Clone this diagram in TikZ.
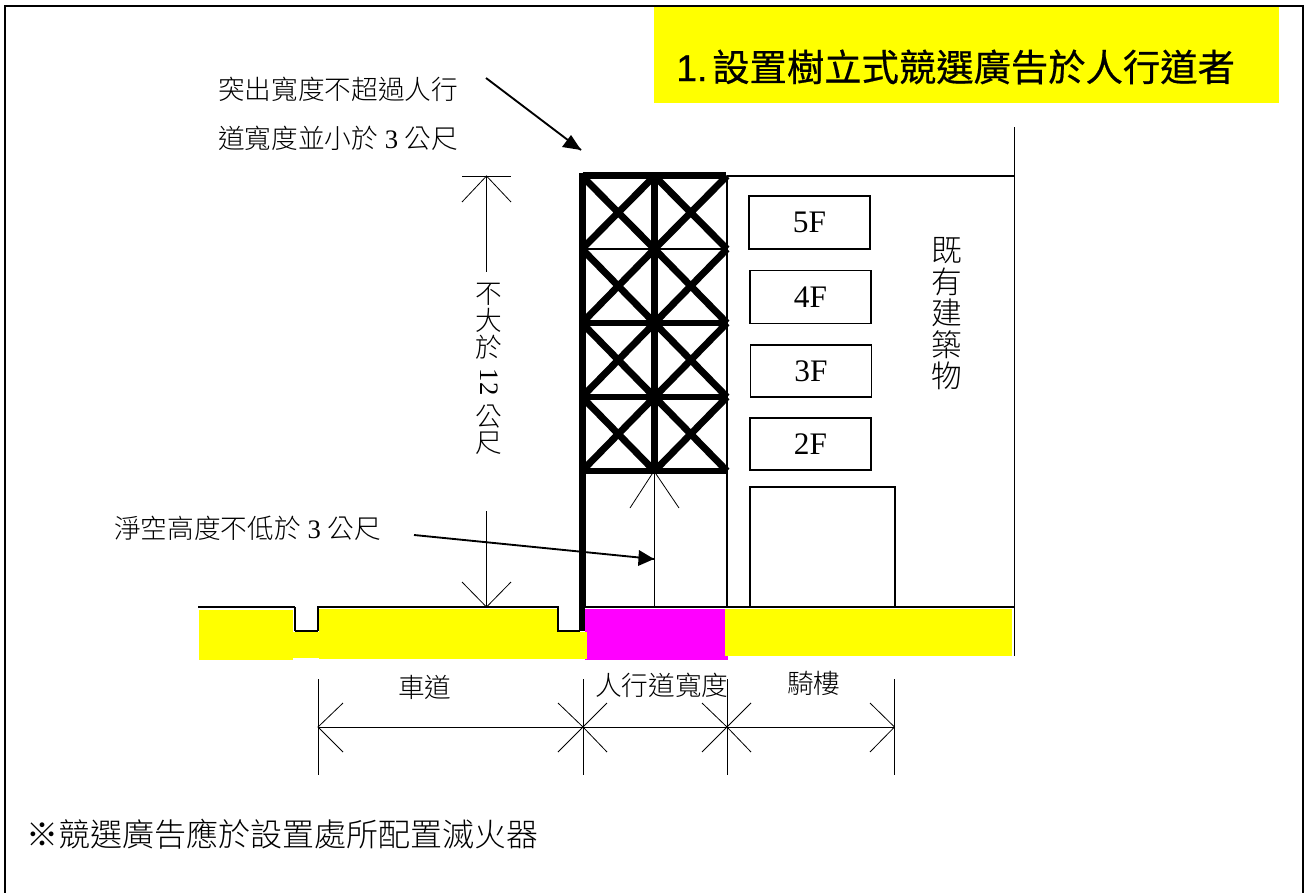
\documentclass[tikz,border=0pt]{standalone}
\usepackage{fontspec}
\setmainfont{Liberation Serif}
\newfontfamily\cjk{Noto Sans CJK TC}[UprightFont=* Light]
\newfontfamily\hei{Noto Sans CJK TC}[FakeBold=0.5]
\newfontfamily\latinbold{Liberation Sans}[FakeBold=0.5]
\newcommand{\fs}[1]{\fontsize{#1}{#1}\selectfont}
\newcommand{\num}[1]{{\rmfamily\ #1\ }}
\definecolor{yel}{RGB}{255,255,0}
\definecolor{mag}{RGB}{255,0,255}
\tikzset{
  x=0.75pt,y=-0.75pt,
  thin line/.style={draw=black,line width=0.75pt},
  thick frame/.style={draw=black,line width=5.2pt},
  mid line/.style={draw=black,line width=1.1pt},
  floorbox/.style={draw=black,line width=1.1pt,fill=white,inner sep=0pt,font=\fs{23.5}},
  label/.style={inner sep=0pt,font=\cjk\fs{20},anchor=west},
  tip/.style={draw=black,line width=0.6pt}
}
\begin{document}
\begin{tikzpicture}
\useasboundingbox (0,0) rectangle (1305,892);
% outer frame
\draw[line width=1.5pt] (5,900) -- (5,6) -- (1303,6) -- (1303,900);
% title
\node[fill=yel,inner sep=0pt,minimum width=625*0.75pt,minimum height=96*0.75pt] (title) at (966.5,55) {};
\node[inner sep=0pt,anchor=west,font=\hei\fs{28}] (titletext) at (676,67) {\makebox[27pt][l]{\latinbold 1.}設置樹立式競選廣告於人行道者};
% coloured bands
\fill[mag] (585,609) rectangle (728,660);
\fill[yel] (199,610) rectangle (293,660);
\fill[yel] (293,632) rectangle (319,658);
\fill[yel] (319,609) rectangle (558,659);
\fill[yel] (558,632) rectangle (587,659);
\fill[yel] (725,609) rectangle (1012,656);
% road line
\coordinate (r0) at (198,607);
\coordinate (r1) at (295,607);
\coordinate (r2) at (295,631);
\coordinate (r3) at (318,631);
\coordinate (r4) at (318,607);
\coordinate (r5) at (558,607);
\coordinate (r6) at (558,631);
\coordinate (r7) at (580,631);
\draw[line width=1.9pt] (r0) -- (r1);
\draw[mid line] (r1) -- (r2);
\draw[line width=2pt] (r2) -- (r3);
\draw[mid line] (r3) -- (r4) -- (r5) -- (r6) -- (r7);
% building
\coordinate (bTR) at (1014.5,127);
\coordinate (bBR) at (1014.5,656);
\coordinate (bT) at (727,176);
\coordinate (bTs) at (1014.5,176);
\coordinate (bL) at (582,607);
\coordinate (bR) at (1014.5,607);
\draw[mid line] (bTR) -- (bBR);
\draw[mid line] (bT) -- (bTs);
\draw[mid line] (bL) -- (bR);
\draw[mid line] (727,176) -- (727,607);
% floors
\node[floorbox,minimum width=121*0.75pt,minimum height=53*0.75pt] (f5) at (809.5,222.5) {5F};
\node[floorbox,minimum width=121*0.75pt,minimum height=53*0.75pt] (f4) at (810.5,297) {4F};
\node[floorbox,minimum width=121*0.75pt,minimum height=52*0.75pt] (f3) at (811,371) {3F};
\node[floorbox,minimum width=121*0.75pt,minimum height=52*0.75pt] (f2) at (810.5,444) {2F};
\node[floorbox,minimum width=145*0.75pt,minimum height=120*0.75pt] (f1) at (822.5,547) {};
% clearance inside scaffold
\coordinate (c0) at (654,471);
\coordinate (c1) at (654,608);
\draw[thin line] (c0) -- (c1);
\draw[tip] (630,508) -- (c0) -- (679,508);
% scaffold
\foreach \y/\n in {176/a,249/b,323/c,397/d,471/e}{
  \coordinate (L\n) at (582,\y);
  \coordinate (M\n) at (654.5,\y);
  \coordinate (R\n) at (727,\y);
}
\draw[line width=5.2pt] (582.5,175.5) -- (726,175.5);
\draw[mid line] (Lb) -- (Rb);
\draw[thick frame] (Lc) -- (Rc) (Ld) -- (Rd) (Le) -- (Re);
\draw[line width=5.2pt] (582.5,173) -- (582.5,607);
\draw[line width=4.5pt] (582,607) -- (582,631);
\draw[thick frame] (Ma) -- (Me);
\foreach \p/\q in {a/b,b/c,c/d,d/e}{
  \draw[line width=5.2pt] (L\p) -- (M\q) (M\p) -- (L\q) (M\p) -- (R\q) (R\p) -- (M\q);
}
% arrow 1
\coordinate (a1s) at (486,78);
\coordinate (a1e) at (581,150);
\draw[line width=1.4pt] (a1s) -- (a1e);
\fill (a1e) -- (562,147) -- (571,135) -- cycle;
\node[label] (t1) at (218,89) {突出寬度不超過人行};
\node[label] (t2) at (218,138) {道寬度並小於\num{3}公尺};
% height dimension
\coordinate (h0) at (462,176);
\coordinate (h1) at (511,176);
\coordinate (hA) at (486.5,176);
\coordinate (hB) at (486.5,272);
\coordinate (hD) at (486.5,607);
\coordinate (hE) at (486.5,511);
\draw[thin line] (h0) -- (h1);
\draw[thin line] (hA) -- (hB);
\draw[tip] (462,202) -- (hA) -- (511,202);
\draw[thin line] (hE) -- (hD);
\draw[tip] (462,582) -- (hD) -- (511,582);
\foreach \t/\y/\n in {不/294/v1,大/320/v2,於/347/v3,公/417/v4,尺/443/v5}{
  \node[inner sep=0pt,font=\cjk\fs{20}] (\n) at (489,\y) {\t};
}
\node[inner sep=0pt,rotate=-90,font=\fs{20}] (v12) at (489,382) {12};
% vertical label
\foreach \t/\y/\n in {既/251/w1,有/282/w2,建/313/w3,築/345/w4,物/376/w5}{
  \node[inner sep=0pt,font=\cjk\fs{23}] (\n) at (947,\y) {\t};
}
\node[label] (t3) at (114,528) {淨空高度不低於\num{3}公尺};
\coordinate (a2s) at (414,535);
\coordinate (a2e) at (654,559);
\draw[line width=1.4pt] (a2s) -- (a2e);
\fill (a2e) -- (638,566) -- (639,550) -- cycle;
% bottom dims
\coordinate (d1) at (318,727);
\coordinate (d2) at (583,727);
\coordinate (d3) at (727,727);
\coordinate (d4) at (894.5,727);
\coordinate (e1) at (318,679);
\coordinate (e2) at (318,775);
\coordinate (e3) at (583,679);
\coordinate (e4) at (583,775);
\coordinate (e5) at (727,679);
\coordinate (e6) at (727,775);
\coordinate (e7) at (894.5,679);
\coordinate (e8) at (894.5,775);
\draw[thin line] (d1) -- (d4);
\draw[thin line] (e1) -- (e2);
\draw[thin line] (e3) -- (e4);
\draw[thin line] (e5) -- (e6);
\draw[thin line] (e7) -- (e8);
\draw[tip] (343,703) -- (d1) -- (343,752);
\draw[tip] (558,703) -- (d2) -- (558,752);
\draw[tip] (607,703) -- (d2) -- (607,752);
\draw[tip] (702,703) -- (d3) -- (702,752);
\draw[tip] (751,703) -- (d3) -- (751,752);
\draw[tip] (870,703) -- (d4) -- (870,752);
\node[label] (t4) at (398,687) {車道};
\node[label] (t5) at (595,685) {人行道寬度};
\node[label] (t6) at (787,683) {騎樓};
% note
\node[inner sep=0pt,anchor=west,font=\cjk\fs{24}] (t7) at (26,834) {※競選廣告應於設置處所配置滅火器};
\end{tikzpicture}
\end{document}
